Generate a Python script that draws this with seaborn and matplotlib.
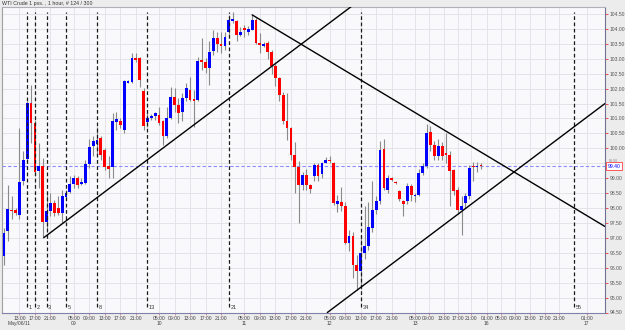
import matplotlib
matplotlib.use("Agg")
import matplotlib.pyplot as plt
import matplotlib.transforms as mtransforms
import seaborn as sns
import numpy as np
import pandas as pd

# hourly candles, index 0..123
opens = [96.38, 97.22, 97.93, 97.94, 97.78, 98.92, 99.64, 101.51, 100.86, 99.23,
         99.41, 97.53, 97.89, 98.17, 98.00, 97.83, 98.37, 98.52, 98.81, 99.00,
         98.81, 98.84, 99.48, 100.08, 100.15, 100.34, 99.95, 99.41, 99.37, 100.87,
         100.92, 100.62, 102.19, 102.21, 103.02, 103.02, 101.92, 100.88, 101.01, 101.07,
         101.12, 100.90, 100.40, 101.01, 101.73, 101.46, 101.23, 101.68, 101.96, 101.66,
         101.62, 102.96, 102.90, 102.70, 103.26, 103.71, 103.48, 103.42, 103.91, 104.27,
         104.25, 103.80, 104.02, 103.90, 103.97, 104.30, 103.52, 103.44, 103.52, 103.24,
         102.76, 102.35, 101.79, 100.90, 100.68, 99.78, 99.39, 98.78, 99.11, 98.78,
         99.08, 99.45, 99.15, 99.50, 99.62, 99.50, 98.15, 98.20, 98.08, 96.83,
         97.05, 96.10, 95.88, 96.50, 96.72, 97.33, 97.95, 98.22, 99.97, 98.61,
         99.00, 98.86, 98.56, 98.22, 98.22, 98.73, 98.41, 98.45, 99.17, 99.40,
         100.53, 100.12, 99.73, 100.09, 99.84, 99.79, 99.28, 98.62, 97.95, 98.17,
         98.39, 99.40, 99.40, 99.42]
highs = [97.33, 98.78, 98.39, 97.99, 100.67, 99.90, 101.60, 102.12, 100.95, 100.17,
         99.67, 98.50, 98.50, 98.28, 98.39, 98.61, 98.60, 99.06, 99.11, 99.06,
         99.00, 99.60, 100.32, 100.40, 100.73, 100.40, 100.00, 99.73, 101.18, 101.23,
         101.00, 102.30, 102.30, 103.18, 103.18, 103.07, 102.01, 101.20, 101.15, 101.23,
         101.40, 100.95, 101.40, 102.07, 102.01, 101.70, 101.85, 102.18, 102.40, 101.96,
         103.07, 103.68, 103.02, 103.60, 103.96, 103.91, 103.90, 103.91, 104.45, 104.58,
         104.30, 104.05, 104.13, 104.10, 104.45, 104.35, 103.85, 103.55, 103.60, 103.30,
         102.90, 102.40, 101.90, 101.84, 100.70, 100.20, 99.56, 99.20, 99.30, 98.80,
         99.50, 99.50, 99.55, 99.70, 99.73, 99.55, 98.45, 98.72, 98.20, 97.28,
         97.20, 96.44, 97.05, 98.06, 98.20, 98.90, 98.40, 100.23, 100.30, 99.10,
         99.05, 98.90, 98.60, 98.28, 98.85, 98.80, 98.50, 99.30, 99.50, 100.80,
         100.75, 100.25, 100.30, 100.20, 100.50, 99.90, 99.30, 98.70, 98.40, 98.50,
         99.45, 99.55, 99.55, 99.50]
lows = [96.10, 96.88, 97.63, 97.78, 97.63, 98.78, 99.50, 100.17, 99.10, 98.67,
        97.00, 97.30, 97.72, 97.72, 97.78, 97.50, 98.33, 98.50, 98.67, 98.67,
        98.78, 98.80, 99.34, 99.73, 99.78, 99.62, 99.28, 99.00, 99.00, 100.62,
        100.67, 100.50, 102.18, 102.19, 102.90, 102.07, 100.62, 100.70, 100.95, 100.96,
        100.79, 100.12, 100.35, 100.97, 101.23, 100.84, 100.90, 101.57, 101.57, 100.73,
        101.57, 102.63, 102.51, 102.12, 103.13, 103.24, 103.20, 103.30, 103.80, 104.20,
        103.60, 103.75, 103.74, 103.80, 103.95, 103.50, 103.19, 103.40, 103.00, 102.50,
        102.10, 101.60, 100.80, 100.29, 99.60, 98.50, 97.50, 98.60, 98.60, 98.50,
        98.90, 98.90, 99.00, 99.50, 99.50, 98.10, 97.85, 97.90, 96.80, 96.55,
        95.66, 95.27, 95.30, 96.30, 96.60, 97.20, 97.80, 98.15, 98.60, 98.50,
        98.90, 98.80, 98.25, 97.74, 98.15, 98.25, 98.20, 98.40, 99.10, 99.35,
        99.90, 99.60, 99.62, 99.60, 99.50, 98.06, 98.45, 97.80, 97.11, 98.00,
        98.30, 98.90, 99.20, 99.30]
closes = [97.16, 97.98, 97.90, 97.83, 98.87, 99.62, 101.51, 100.84, 99.19, 99.41,
          97.53, 97.89, 98.17, 97.83, 97.83, 98.39, 98.50, 98.81, 99.00, 98.78,
          98.87, 99.48, 100.04, 100.25, 100.28, 99.78, 99.39, 99.31, 100.90, 100.98,
          100.79, 102.24, 102.26, 103.02, 102.96, 102.29, 100.76, 101.01, 101.07, 101.18,
          100.84, 100.40, 101.01, 101.73, 101.46, 101.18, 101.68, 102.01, 101.62, 101.59,
          102.93, 102.90, 102.68, 103.24, 103.68, 103.48, 103.42, 103.72, 104.30, 104.33,
          103.80, 103.91, 103.97, 104.00, 104.30, 103.52, 103.46, 103.49, 103.24, 102.76,
          102.35, 101.79, 100.90, 100.68, 99.78, 99.39, 98.78, 99.11, 98.78, 98.64,
          99.45, 99.06, 99.50, 99.62, 99.56, 98.17, 98.22, 98.06, 96.83, 97.05,
          96.10, 95.88, 96.50, 96.72, 97.35, 97.95, 98.22, 99.95, 98.67, 99.00,
          98.95, 98.84, 98.30, 98.13, 98.75, 98.45, 98.45, 99.17, 99.40, 100.51,
          100.12, 99.73, 100.09, 99.75, 99.79, 99.23, 98.56, 97.95, 98.06, 98.39,
          99.34, 99.37, 99.42, 99.40]

last_price = 99.40

# hour ticks (bar slot, label) and day labels
hour_ticks = [4, 8, 12, 18, 22, 26, 30, 34, 40, 44, 48, 52, 56,
              62, 66, 70, 74, 78, 84, 88, 92, 96, 100, 106, 109.5, 113.5, 117, 120.5,
              124.5, 128.3, 131.8, 135.6, 139.4, 143.1, 150.3]
hour_labels = ["13:00", "17:00", "21:00",
               "05:00", "09:00", "13:00", "17:00", "21:00",
               "05:00", "09:00", "13:00", "17:00", "21:00",
               "05:00", "09:00", "13:00", "17:00", "21:00",
               "05:00", "09:00", "13:00", "17:00", "21:00",
               "05:00", "09:00", "13:00", "17:00", "21:00",
               "01:00", "05:00", "09:00", "13:00", "17:00", "21:00", "01:00"]
day_ticks = [4, 18, 40, 62, 84, 106, 124.5, 150.3]
day_labels = ["May/06/11", "09", "10", "11", "12", "13", "16", "17"]

# fibonacci time zones
fib_pos = [6, 8, 11, 16, 24, 37, 58, 92, 147]
fib_labels = ["1", "2", "3", "5", "8", "13", "21", "34", "55"]

# trend lines: (x0, y0, x1, y1)
trend_x = [[10.3, 90.1], [64.0, 155.0], [83.4, 155.0]]
trend_y = [[97.01, 104.80], [104.47, 97.38], [94.50, 101.50]]

sns.set_theme(style="white")
plt.rcParams["font.family"] = ["Liberation Sans", "DejaVu Sans"]

fig = plt.figure(figsize=(6.25, 3.3), dpi=100, facecolor="#ececec")
ax = fig.add_axes([2 / 625, 17.5 / 330, 603 / 625, 306 / 330])
ax.set_facecolor("#f9f9fc")

idx = np.arange(len(opens))
o = np.array(opens)
c = np.array(closes)
up = c >= o

# grid
for yv in np.arange(94.5, 104.51, 0.5):
    ax.axhline(yv, color="#e4e4e8", lw=0.7, zorder=0)
for xv in hour_ticks:
    ax.axvline(xv, color="#e4e4e8", lw=0.7, zorder=0)

# wicks and bodies
ax.vlines(idx, lows, highs, color="#8a8a8a", lw=0.8, zorder=2)
body = np.where(np.abs(c - o) < 0.04, 0.04, c - o)
ax.bar(idx, body, bottom=np.where(np.abs(c - o) < 0.04, o - 0.02, o), width=0.72,
       color=np.where(up, "#0000ff", "#ff0000"), linewidth=0, zorder=3)

# last price line
ax.axhline(last_price, color="#8c8cff", lw=0.8, ls=(0, (3, 2)), zorder=1)

# fib time zones
for p, lab in zip(fib_pos, fib_labels):
    ax.vlines(p, 94.70, 104.58, color="#1a1a1a", lw=0.9, ls=(0, (3, 2)), zorder=4)
    ax.text(p + 0.4, 94.66, lab, fontsize=4, color="#333333", ha="left", va="center")

# trend lines
tl = pd.DataFrame({"x": sum(trend_x, []), "y": sum(trend_y, []),
                   "line": [0, 0, 1, 1, 2, 2]})
sns.lineplot(data=tl, x="x", y="y", units="line", estimator=None, color="black",
             lw=1.0, ax=ax, zorder=5)

ax.set_xlim(-0.5, 155)
ax.set_ylim(94.5, 104.75)
ax.set_xlabel("")
ax.set_ylabel("")

# axes styling
ax.yaxis.tick_right()
yt = np.arange(94.5, 104.51, 0.5)
ax.set_yticks(yt)
ax.set_yticklabels(["" if abs(v - 99.5) < 1e-6 else f"{v:.2f}" for v in yt])
ax.tick_params(axis="y", right=True, length=2.5, width=0.6, color="#ff3030",
               labelsize=3.6, labelcolor="#555555", pad=1)
ax.set_xticks(hour_ticks)
ax.set_xticklabels(hour_labels)
ax.tick_params(axis="x", bottom=True, length=1.5, width=0.5, color="#cc6666",
               labelsize=3.6, labelcolor="#444444", pad=1)
trans = mtransforms.blended_transform_factory(ax.transData, ax.transAxes)
for p, lab in zip(day_ticks, day_labels):
    ax.text(p, -0.036, lab, transform=trans, fontsize=3.6, color="#444444",
            ha="center", va="center")

for side, col in [("left", "#a0a0a0"), ("top", "#b0b0b8"),
                  ("right", "#707090"), ("bottom", "#8080a8")]:
    ax.spines[side].set_color(col)
    ax.spines[side].set_linewidth(0.8)

# current price tag (covers the 99.50 label as in the original); small 99.50 peeking above
ytrans = mtransforms.blended_transform_factory(ax.transAxes, ax.transData)
ax.text(1.006, 99.56, "99.50", transform=ytrans, fontsize=2.6, color="#888888",
        ha="left", va="center", zorder=5)
ax.text(1.004, last_price, f"{last_price:.2f}", transform=ytrans, fontsize=3.6,
        color="#0000ff", ha="left", va="center", zorder=6,
        bbox=dict(boxstyle="square,pad=0.25", fc="#ffffff", ec="#ff4040", lw=0.6))

fig.text(2 / 625, 1 - 4 / 330, "WTI Crude 1 pss. , 1 hour, # 124 / 300",
         fontsize=3.8, color="#333333", ha="left", va="center")

fig.savefig("out.png", dpi=100, facecolor=fig.get_facecolor())
